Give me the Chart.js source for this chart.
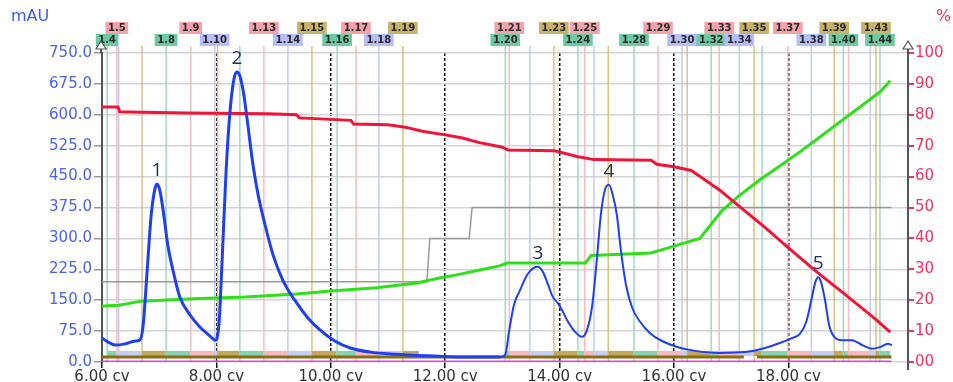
<!DOCTYPE html>
<html>
<head>
<meta charset="utf-8">
<script src="https://cdn.jsdelivr.net/npm/chart.js@4.4.1/dist/chart.umd.min.js"></script>
<style>
  html, body { margin: 0; padding: 0; background: #fff; }
  canvas { display: block; }
</style>
</head>
<body>
<canvas id="chrom" width="953" height="382"></canvas>
<script>
// UV trace, mAU against column volumes
const uvCv = [6.00,6.10,6.23,6.40,6.58,6.66,6.72,6.79,6.86,6.92,6.96,7.01,7.08,7.15,7.26,7.36,7.54,7.71,7.89,7.98,
  8.01,8.05,8.10,8.17,8.24,8.31,8.36,8.41,8.48,8.55,8.64,8.73,8.85,8.99,9.16,9.37,9.60,9.81,10.07,10.34,
  10.69,11.12,11.73,12.43,12.96,13.05,13.12,13.20,13.31,13.43,13.54,13.62,13.71,13.80,13.88,13.97,14.04,14.15,14.27,14.39,
  14.48,14.57,14.65,14.72,14.79,14.86,14.93,15.00,15.07,15.16,15.27,15.41,15.58,15.79,16.07,16.37,16.80,17.24,17.59,17.85,
  18.06,18.20,18.31,18.40,18.47,18.52,18.57,18.64,18.71,18.80,18.94,19.11,19.29,19.46,19.60,19.74,19.81];
const uvMau = [58,49,41,44,51,53,90,223,357,417,432,417,357,284,211,158,114,85,63,53,
  58,102,248,466,612,689,704,694,648,575,478,405,333,260,199,150,107,78,51,34,
  24,19,15,12,12,19,78,138,175,211,228,231,218,187,158,143,126,97,73,61,
  78,138,248,357,417,430,405,357,272,187,131,97,70,51,36,27,22,24,34,46,
  58,68,97,150,194,206,194,150,90,61,53,53,41,32,36,44,41];

// red trace (%)
const redCv = [6.00,6.28,6.31,6.68,7.50,8.90,9.40,9.45,10.35,10.40,11.00,11.30,11.60,12.00,12.30,12.60,13.00,13.10,13.90,14.10,
  14.30,14.60,15.60,15.70,16.00,16.30,16.50,16.80,17.20,17.60,18.00,18.50,19.00,19.50,19.78];
const redPct = [82.5,82.5,81.0,80.8,80.6,80.3,80.0,79.0,78.2,77.0,76.8,76.0,74.7,73.5,72.5,71.0,69.5,68.6,68.4,67.5,
  66.5,65.5,65.3,64.0,63.2,62.0,59.5,55.6,49.5,43.4,36.9,29.1,21.7,14.2,9.7];

// green trace (%)
const greenCv = [6.00,6.30,6.68,7.60,8.50,9.40,10.00,10.80,11.50,11.90,12.20,12.60,12.95,13.08,14.45,14.55,15.60,16.00,16.45,16.84,
  17.15,17.50,17.85,18.20,18.55,18.90,19.25,19.60,19.78];
const greenPct = [18.1,18.4,19.7,20.5,21.0,22.0,23.0,24.0,25.6,27.2,28.2,29.8,31.1,32.0,32.0,34.5,35.3,37.5,40.0,49.0,
  54.0,59.0,63.4,68.0,72.8,77.7,82.5,87.4,91.0];

// gray step trace (%)
const grayCv = [6.00,11.68,11.73,12.42,12.47,19.80];
const grayPct = [26,26,40,40,50,50];

// dark olive and magenta base traces (%)
const oliveCv = [6.00,17.22,17.30,17.45,19.80];
const olivePct = [1.6,1.6,null,1.6,1.6];
const magentaCv = [6.00,19.80];
const magentaPct = [0,0];

// fractions
const fracNames = ['1.4','1.5','1.6','1.7','1.8','1.9','1.10','1.11','1.12','1.13','1.14','1.15','1.16','1.17','1.18','1.19',
  '1.20','1.21','1.22','1.23','1.24','1.25','1.26','1.27','1.28','1.29','1.30','1.31','1.32','1.33','1.34','1.35','1.36',
  '1.37','1.38','1.39','1.40','1.41','1.42','1.43','1.44'];
const fracStart = [6.09,6.26,6.29,6.70,7.12,7.55,7.97,8.02,8.41,8.83,9.25,9.67,10.11,10.44,10.84,11.26,
  13.05,13.12,13.48,13.90,14.32,14.44,14.60,14.85,15.30,15.72,16.14,16.23,16.65,16.79,17.14,17.40,17.54,
  17.99,18.40,18.80,18.96,19.05,19.43,19.53,19.60];
const fracStop = { '1.19': 11.54, '1.44': 19.78 };
const labelsTop = ['1.5','1.9','1.13','1.15','1.17','1.19','1.21','1.23','1.25','1.29','1.33','1.35','1.37','1.39','1.43'];
const labelsLow = ['1.4','1.8','1.10','1.14','1.16','1.18','1.20','1.24','1.28','1.30','1.32','1.34','1.38','1.40','1.44'];

// peaks
const peakNames = ['1','2','3','4','5'];
const peakCv = [6.96,8.36,13.62,14.86,18.52];

const xTicks = [6,8,10,12,14,16,18];

// colours by fraction number mod 4: green, pink, lavender, olive
const labelBg = ['#6ccaa3','#f5a3ab','#b5bef6','#c9b36c'];
const lineCol = ['#9edbc0','#f7bcc3','#c3cbf8','#d6c386'];
const barCol = ['#86d2b2','#f6b9c0','#c6cdf7','#c2a85e'];

function pts(xs, ys) {
  return xs.map((v, i) => ({ x: v, y: ys[i] }));
}

const fractionPlugin = {
  id: 'fractions',
  beforeDatasetsDraw(chart) {
    const { ctx, chartArea, scales } = chart;
    const x = scales.x, y = scales.y;
    ctx.save();
    fracNames.forEach(function (name, i) {
      const k = parseInt(name.split('.')[1]) % 4;
      const px = x.getPixelForValue(fracStart[i]);
      ctx.strokeStyle = lineCol[k];
      ctx.lineWidth = 1.5;
      ctx.beginPath();
      ctx.moveTo(px, 46);
      ctx.lineTo(px, chartArea.bottom);
      ctx.stroke();
      // collection bar along the baseline
      const end = fracStop[name] !== undefined ? fracStop[name] : fracStart[i + 1];
      const pe = x.getPixelForValue(end);
      const top = y.getPixelForValue(27), bot = y.getPixelForValue(14);
      ctx.fillStyle = barCol[k];
      ctx.fillRect(px, top, pe - px, bot - top);
    });
    ctx.restore();
  },
  afterDraw(chart) {
    const { ctx, chartArea, scales } = chart;
    const x = scales.x, y = scales.y;
    ctx.save();
    // fraction labels
    ctx.font = 'bold 10px "DejaVu Sans"';
    ctx.textAlign = 'center';
    ctx.textBaseline = 'middle';
    [[labelsTop, 28], [labelsLow, 40]].forEach(function (row) {
      row[0].forEach(function (name) {
        const i = fracNames.indexOf(name);
        const k = parseInt(name.split('.')[1]) % 4;
        const px = x.getPixelForValue(fracStart[i]);
        const w = ctx.measureText(name).width + 5;
        ctx.fillStyle = labelBg[k];
        ctx.fillRect(px - w / 2, row[1] - 6, w, 12);
        ctx.fillStyle = '#2a2a2a';
        ctx.fillText(name, px, row[1] + 0.5);
      });
    });
    // peak numbers
    ctx.font = '19px "Open Sans"';
    ctx.fillStyle = '#1e2f5c';
    ctx.textBaseline = 'bottom';
    peakNames.forEach(function (p, i) {
      let best = 0;
      uvCv.forEach(function (c, j) {
        if (Math.abs(c - peakCv[i]) < Math.abs(uvCv[best] - peakCv[i])) best = j;
      });
      ctx.fillText(p, x.getPixelForValue(peakCv[i]), y.getPixelForValue(uvMau[best]) - 4);
    });
    // axis titles
    ctx.font = '16px "DejaVu Sans"';
    ctx.textAlign = 'left';
    ctx.textBaseline = 'middle';
    ctx.fillStyle = '#3f5cf2';
    ctx.fillText('mAU', 11, 17);
    ctx.fillStyle = '#f4335c';
    ctx.fillText('%', 936, 17);
    // axis arrows
    ctx.strokeStyle = '#555';
    ctx.lineWidth = 2;
    [chartArea.left - 1, chartArea.right].forEach(function (ax) {
      ctx.beginPath();
      ctx.moveTo(ax, chartArea.top);
      ctx.lineTo(ax, 47);
      ctx.stroke();
      ctx.lineWidth = 1.2;
      ctx.fillStyle = '#fff';
      ctx.beginPath();
      ctx.moveTo(ax, 41);
      ctx.lineTo(ax - 5, 49);
      ctx.lineTo(ax + 5, 49);
      ctx.closePath();
      ctx.fill();
      ctx.stroke();
      ctx.lineWidth = 2;
    });
    ctx.beginPath();
    ctx.moveTo(chartArea.right, chartArea.bottom);
    ctx.lineTo(chartArea.right, chartArea.bottom + 8);
    ctx.stroke();
    ctx.restore();
  }
};

new Chart(document.getElementById('chrom'), {
  type: 'line',
  data: {
    datasets: [
      {
        label: 'UV',
        data: pts(uvCv, uvMau),
        yAxisID: 'y',
        borderColor: '#1f3ff0',
        borderWidth: 2,
        cubicInterpolationMode: 'monotone',
        pointRadius: 0,
        segment: { borderWidth: c => c.p0.parsed.x < 12.5 ? 3 : 2 }
      },
      {
        label: 'red',
        data: pts(redCv, redPct),
        yAxisID: 'y2',
        borderColor: '#f01538',
        borderWidth: 3,
        tension: 0,
        pointRadius: 0
      },
      {
        label: 'green',
        data: pts(greenCv, greenPct),
        yAxisID: 'y2',
        borderColor: '#2ee01a',
        borderWidth: 3,
        tension: 0,
        pointRadius: 0
      },
      {
        label: 'gray',
        data: pts(grayCv, grayPct),
        yAxisID: 'y2',
        borderColor: '#9a9a9a',
        borderWidth: 1.5,
        tension: 0,
        pointRadius: 0
      },
      {
        label: 'olive',
        data: pts(oliveCv, olivePct),
        yAxisID: 'y2',
        borderColor: '#8a6d0c',
        borderWidth: 3,
        tension: 0,
        pointRadius: 0
      },
      {
        label: 'magenta',
        data: pts(magentaCv, magentaPct),
        yAxisID: 'y2',
        borderColor: '#e040ee',
        borderWidth: 3,
        tension: 0,
        pointRadius: 0
      }
    ]
  },
  options: {
    responsive: false,
    animation: false,
    devicePixelRatio: 1,
    layout: { padding: { top: 53, left: 0, right: 0, bottom: 0 } },
    plugins: { legend: { display: false }, tooltip: { enabled: false } },
    scales: {
      x: {
        type: 'linear',
        min: 6,
        max: 20.09,
        afterBuildTicks: s => { s.ticks = xTicks.map(v => ({ value: v })); },
        afterFit: s => { s.height = 20; },
        ticks: {
          callback: v => v.toFixed(2) + ' cv',
          color: '#333',
          font: { family: 'DejaVu Sans', size: 15 },
          padding: 0,
          maxRotation: 0,
          autoSkip: false
        },
        grid: { color: '#111', lineWidth: 1.5, tickLength: 6 },
        border: { display: false, dash: [3, 2] }
      },
      y: {
        position: 'left',
        min: 0,
        max: 750,
        afterFit: s => { s.width = 102; },
        ticks: {
          stepSize: 75,
          callback: v => v.toFixed(1),
          color: '#4a62f3',
          font: { family: 'DejaVu Sans', size: 15 },
          padding: 2
        },
        grid: { color: '#d4d4d4', lineWidth: 1.5, tickLength: 8, tickColor: '#999' },
        border: { color: '#555', width: 2 }
      },
      y2: {
        position: 'right',
        min: 0,
        max: 100,
        afterFit: s => { s.width = 45; },
        ticks: {
          stepSize: 10,
          callback: v => v === 0 ? '00' : String(v),
          color: '#f4335c',
          font: { family: 'DejaVu Sans', size: 15 },
          padding: 1
        },
        grid: { drawOnChartArea: false, tickLength: 6, tickColor: '#f4335c', lineWidth: 2 },
        border: { color: '#555', width: 2 }
      }
    }
  },
  plugins: [fractionPlugin]
});
</script>
</body>
</html>
